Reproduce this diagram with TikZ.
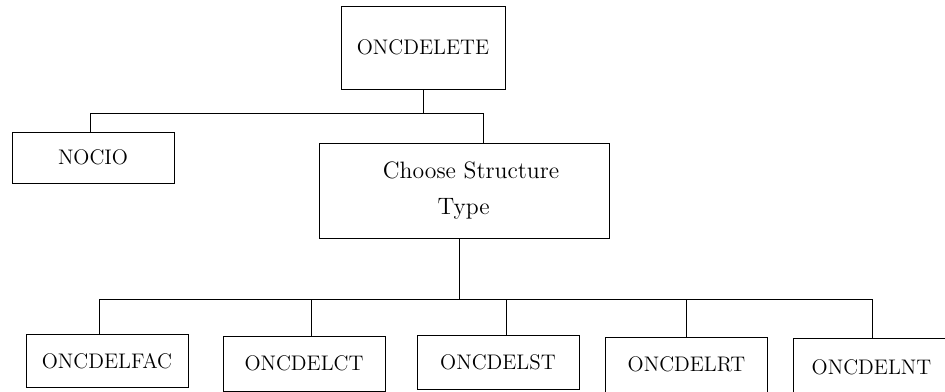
\documentclass[tikz,border=0pt]{standalone}
\tikzset{
  >=latex,
}
\tikzstyle{every node}=[font=\large]
\tikzstyle{box}=[draw,line width=.45pt,inner sep=0pt]
\tikzstyle{leaf}=[box,minimum width=3.24cm,minimum height=1.07cm]
\tikzstyle{wire}=[line width=.45pt]

\begin{document}
\begin{tikzpicture}[x=.2mm,y=-.2mm]
        \useasboundingbox (0,0) rectangle (945,391);
        \node[box,minimum width=3.28cm,minimum height=1.66cm] (top) at (423,47.5) {ONCDELETE};
        \node[box,minimum width=3.24cm,minimum height=1.02cm] (nocio) at (93,157.5) {NOCIO};
        \node[box,minimum width=5.8cm,minimum height=1.9cm,align=left,
          font=\fontsize{13.5}{16}\selectfont] (choose) at (464,190.5)
          {\hspace*{.6em}Choose Structure\\[4pt]\hspace*{2.9em}Type};
        \node[leaf] (fac) at (107,361) {ONCDELFAC};
        \node[leaf,minimum height=1.1cm] (ct) at (304,363.5) {ONCDELCT};
        \node[leaf] (st) at (498,362.5) {ONCDELST};
        \node[leaf,minimum height=1.1cm] (rt) at (686.5,364.5) {ONCDELRT};
        \node[leaf,minimum width=3.14cm,minimum height=1.14cm] (nt) at (871.5,367) {ONCDELNT};
        % upper bus
        \coordinate (upL) at (90,113);
        \coordinate (upR) at (483,113);
        \draw[wire] (top.south) -- (top.south |- upL);
        \draw[wire] (nocio.north -| upL) -- (upL) -- (upR) -- (upR |- choose.north);
        % lower bus
        \coordinate (lowC) at (459,299);
        \coordinate (lowL) at (99,299);
        \coordinate (lowR) at (872,299);
        \coordinate (dropCT) at (311,299);
        \coordinate (dropST) at (506,299);
        \coordinate (dropRT) at (686,299);
        \draw[wire] (choose.south -| lowC) -- (lowC);
        \draw[wire] (fac.north -| lowL) -- (lowL) -- (lowR) -- (nt.north -| lowR);
        \draw[wire] (ct.north -| dropCT) -- (dropCT);
        \draw[wire] (st.north -| dropST) -- (dropST);
        \draw[wire] (rt.north -| dropRT) -- (dropRT);
      \end{tikzpicture}
\end{document}
